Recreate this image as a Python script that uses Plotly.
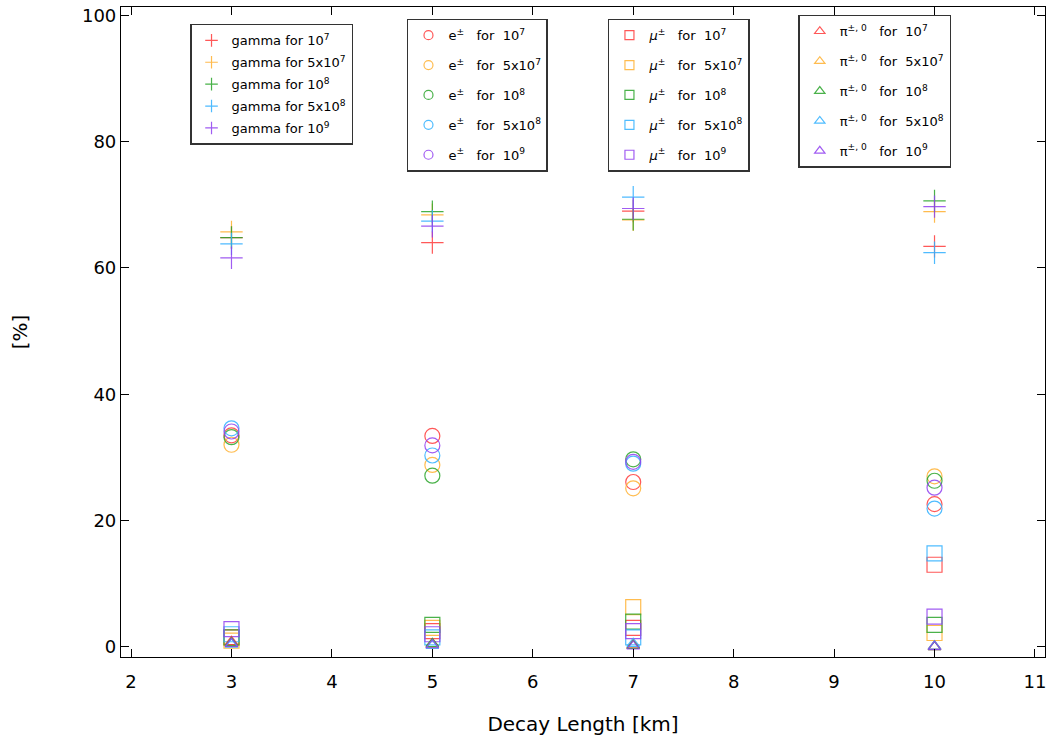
import plotly.graph_objects as go

# ---------------- data ----------------
decay_length_km = [3, 5, 7, 10]
energy_labels = ["10<sup>7</sup>", "5x10<sup>7</sup>", "10<sup>8</sup>", "5x10<sup>8</sup>", "10<sup>9</sup>"]

# rows: energies 1e7, 5e7, 1e8, 5e8, 1e9 ; columns: decay lengths 3,5,7,10 km
gamma_pct = [
    [64.8, 64.0, 69.0, 63.4],
    [65.7, 68.4, 67.6, 68.9],
    [64.8, 68.9, 67.7, 70.6],
    [63.8, 67.4, 71.2, 62.4],
    [61.6, 66.6, 69.4, 69.7],
]
electron_pct = [
    [33.5, 33.4, 26.1, 22.6],
    [32.0, 28.8, 25.1, 27.0],
    [33.2, 27.1, 29.7, 26.3],
    [34.6, 30.3, 29.0, 21.9],
    [34.1, 31.9, 29.3, 25.2],
]
muon_pct = [
    [1.5, 2.5, 3.0, 13.0],
    [1.0, 3.0, 6.3, 2.2],
    [1.5, 3.5, 4.0, 3.5],
    [2.0, 1.5, 1.5, 14.8],
    [2.8, 2.0, 2.5, 4.8],
]
pion_pct = [
    [0.8, 0.4, 0.3, 0.1],
    [0.5, 0.3, 0.2, 0.0],
    [0.6, 0.5, 0.2, 0.0],
    [0.4, 0.2, 0.5, 0.1],
    [0.5, 0.3, 0.1, 0.0],
]

colors = ["#ff3b3b", "#ffb030", "#2aa52a", "#30b0ff", "#9040f0"]

particles = [
    ("gamma", gamma_pct, "cross-thin", "gamma for {}", "legend", 16),
    ("e", electron_pct, "circle-open", "e<sup>±</sup>   for  {}", "legend2", 15),
    ("mu", muon_pct, "square-open", "<i>μ</i><sup>±</sup>   for  {}", "legend3", 15),
    ("pi", pion_pct, "triangle-up-open", "π<sup>±, 0</sup>   for  {}", "legend4", 11),
]

fig = go.Figure()
for name, table, symbol, label_fmt, legend_id, size in particles:
    for i, row in enumerate(table):
        fig.add_trace(go.Scatter(
            x=decay_length_km, y=row, mode="markers",
            marker=dict(symbol=symbol, size=size, color=colors[i], opacity=0.85,
                        line=dict(width=1.2, color=colors[i])),
            showlegend=False, hoverinfo="x+y",
        ))
    for i in range(len(table)):
        fig.add_trace(go.Scatter(
            x=[None], y=[None], mode="markers",
            marker=dict(symbol=symbol, size=9, color=colors[i], opacity=0.85,
                        line=dict(width=1.2, color=colors[i])),
            name=label_fmt.format(energy_labels[i]), legend=legend_id,
            legendgroup=f"{name}{i}",
        ))

axis_common = dict(
    showline=True, linecolor="black", linewidth=1.2, mirror="ticks",
    ticks="inside", ticklen=8, tickwidth=1.2, tickcolor="black",
    showgrid=False, zeroline=False,
    tickfont=dict(family="DejaVu Sans", size=18, color="black"),
)

fig.update_xaxes(range=[1.9, 11.1], dtick=1, tick0=2, ticklabelstandoff=8,
                 title=dict(text="Decay Length [km]", font=dict(family="DejaVu Sans", size=20, color="black"), standoff=26),
                 **axis_common)
fig.update_yaxes(range=[-1.6, 101.3], dtick=20, tick0=0,
                 title=dict(text="[%]", font=dict(family="DejaVu Sans", size=20, color="black"), standoff=48),
                 **axis_common)

legend_common = dict(
    bgcolor="white", bordercolor="#333333", borderwidth=1.5,
    font=dict(family="DejaVu Sans", size=13, color="black"),
    xanchor="left", yanchor="top", traceorder="grouped", itemsizing="trace",
)
fig.update_layout(
    width=1054, height=747,
    margin=dict(l=121, r=9, t=5, b=90),
    paper_bgcolor="white", plot_bgcolor="white",
    legend=dict(x=0.0747, y=0.974, tracegroupgap=2, **legend_common),
    legend2=dict(x=0.3095, y=0.982, tracegroupgap=10, **legend_common),
    legend3=dict(x=0.527, y=0.982, tracegroupgap=10, **legend_common),
    legend4=dict(x=0.733, y=0.988, tracegroupgap=10, **legend_common),
)

fig.write_html("out.html")
